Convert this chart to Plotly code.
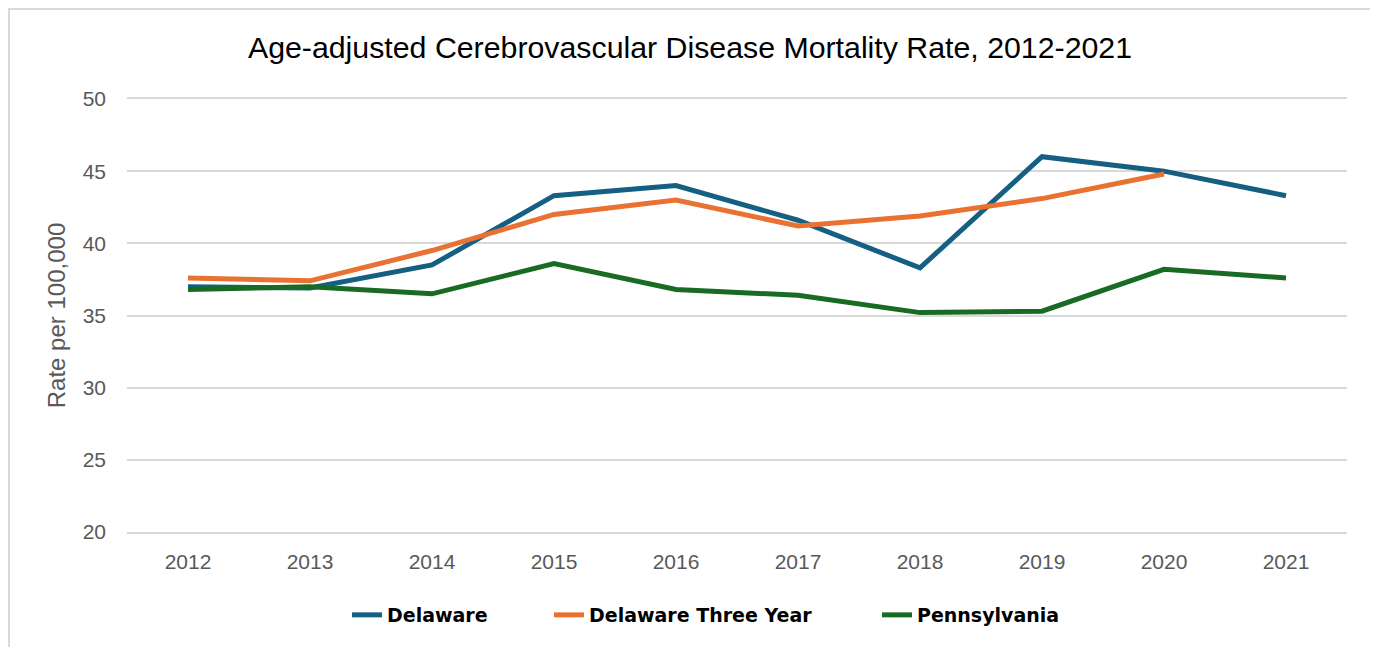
import plotly.graph_objects as go

years = ["2012", "2013", "2014", "2015", "2016", "2017", "2018", "2019", "2020", "2021"]
delaware = [37.0, 36.9, 38.5, 43.3, 44.0, 41.6, 38.3, 46.0, 45.0, 43.3]
delaware_3yr = [37.6, 37.4, 39.5, 42.0, 43.0, 41.2, 41.9, 43.1, 44.8, None]
pennsylvania = [36.8, 37.0, 36.5, 38.6, 36.8, 36.4, 35.2, 35.3, 38.2, 37.6]

series = [
    ("Delaware", delaware, "#156082"),
    ("Delaware Three Year", delaware_3yr, "#E97132"),
    ("Pennsylvania", pennsylvania, "#196B24"),
]
# page x where each legend label begins (reference)
legend_text_x = [388, 590, 918]

# page has an 8px body margin, so the figure is sized to fit the window
W, H = 1370, 639
ML, MR, MT, MB = 119, 31, 91, 115
PW, PH = W - ML - MR, H - MT - MB

fig = go.Figure()
legend_names = ["legend", "legend2", "legend3"]
for (name, vals, color), lg in zip(series, legend_names):
    fig.add_trace(go.Scatter(
        x=years, y=vals, name=name, mode="lines",
        line=dict(color=color, width=5),
        connectgaps=False, legend=lg,
    ))

sans = "Liberation Sans, Arial, sans-serif"
legend_font = dict(size=19, color="#000000", family="DejaVu Sans, sans-serif", weight="bold")

layout_legends = {}
for lg, tx in zip(legend_names, legend_text_x):
    layout_legends[lg] = dict(
        orientation="h", x=(tx - 8 - 41) / W, xref="container", xanchor="left",
        y=1 - 607 / H, yref="container", yanchor="middle",
        font=legend_font, bgcolor="rgba(0,0,0,0)",
    )

fig.update_layout(
    width=W, height=H,
    paper_bgcolor="white", plot_bgcolor="white",
    margin=dict(l=ML, r=MR, t=MT, b=MB),
    font=dict(family=sans, color="#595959"),
    title=dict(
        text="Age-adjusted Cerebrovascular Disease Mortality Rate, 2012-2021",
        x=(690 - 8) / W, xref="container", xanchor="center",
        y=1 - 39 / H, yref="container", yanchor="middle",
        font=dict(size=30.3, color="#000000", family=sans),
    ),
    showlegend=True,
    xaxis=dict(
        type="category", range=[-0.5, 9.5],
        showgrid=False, zeroline=False,
        showline=True, linecolor="#d9d9d9", linewidth=1.5, mirror=True,
        tickfont=dict(size=21, color="#595959"),
        ticks="", ticklabelstandoff=10,
    ),
    yaxis=dict(
        range=[20, 50], dtick=5, tick0=20,
        showgrid=True, gridcolor="#d9d9d9", gridwidth=1.5,
        zeroline=False, showline=False,
        tickfont=dict(size=21, color="#595959"),
        ticks="", ticklabelstandoff=20,
        title=dict(text="Rate per 100,000", font=dict(size=24, color="#595959"), standoff=10),
    ),
    **layout_legends,
)

# outer chart border
fig.add_shape(
    type="rect", xref="paper", yref="paper",
    x0=(1 - ML) / PW, x1=(1367 - ML) / PW,
    y0=(PH + MT - 700) / PH, y1=(PH + MT - 1) / PH,
    line=dict(color="#d9d9d9", width=2), fillcolor="rgba(0,0,0,0)", layer="below",
)

fig.write_html("out.html")
